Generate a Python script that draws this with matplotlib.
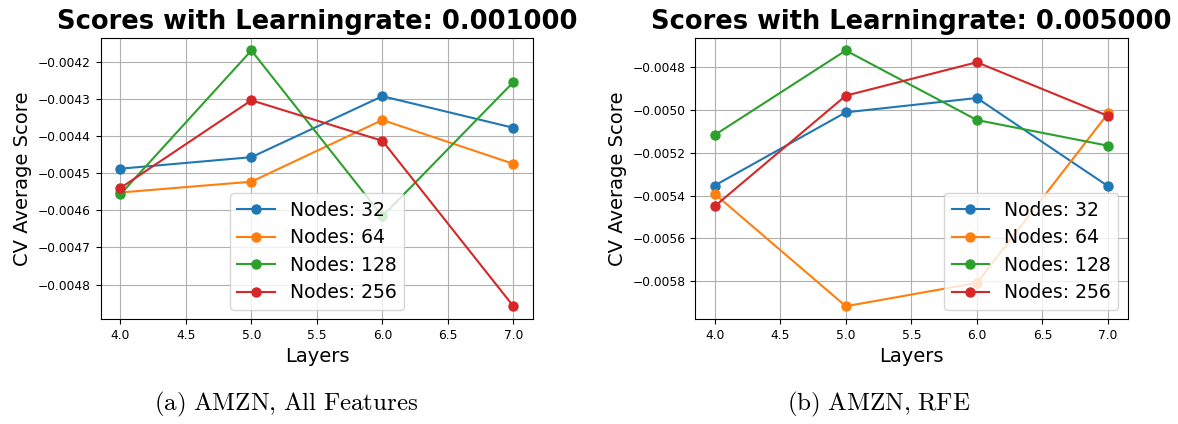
import matplotlib
matplotlib.use('Agg')
import matplotlib.pyplot as plt
from matplotlib.ticker import MultipleLocator

plt.rcParams['mathtext.fontset'] = 'cm'

layers = [4, 5, 6, 7]
nodes = [32, 64, 128, 256]

# left panel, lr = 0.001, all features
lr1_n32 = [-0.004488, -0.004457, -0.004293, -0.004378]
lr1_n64 = [-0.004552, -0.004523, -0.004357, -0.004475]
lr1_n128 = [-0.004557, -0.004170, -0.004616, -0.004255]
lr1_n256 = [-0.004540, -0.004304, -0.004413, -0.004858]

# right panel, lr = 0.005, RFE
lr5_n32 = [-0.005353, -0.005011, -0.004944, -0.005356]
lr5_n64 = [-0.005392, -0.005917, -0.005808, -0.005016]
lr5_n128 = [-0.005117, -0.004722, -0.005047, -0.005167]
lr5_n256 = [-0.005450, -0.004933, -0.004777, -0.005028]

fig = plt.figure(figsize=(11.78, 4.24), dpi=100)
ax1 = fig.add_axes([0.0855, 0.2476, 0.367, 0.6635])
ax2 = fig.add_axes([0.590, 0.2476, 0.3673, 0.6635])

panels = [
    (ax1, 0.001, [lr1_n32, lr1_n64, lr1_n128, lr1_n256], 'lower center', 0.0001),
    (ax2, 0.005, [lr5_n32, lr5_n64, lr5_n128, lr5_n256], 'lower right', 0.0002),
]

def minus_fmt(v, p):
    return ('%.4f' % v).replace('-', '\u2212')

for ax, lr, series, loc, step in panels:
    for n, s in zip(nodes, series):
        ax.plot(layers, s, marker='o', ms=6.5, lw=1.5, label='Nodes: %d' % n)
    ax.set_title('Scores with Learningrate: %f' % lr, fontsize=18.5, fontweight='bold')
    ax.set_xlabel('Layers', fontsize=14)
    ax.set_ylabel('CV Average Score', fontsize=14)
    ax.xaxis.set_major_locator(MultipleLocator(0.5))
    ax.yaxis.set_major_locator(MultipleLocator(step))
    ax.yaxis.set_major_formatter(plt.FuncFormatter(minus_fmt))
    ax.tick_params(labelsize=8.8)
    ax.grid(True, color='#b0b0b0', lw=0.8)
    ax.legend(loc=loc, fontsize=13.5, labelspacing=0.45)

fig.text(0.243, 0.045, r'$\mathrm{(a)\ AMZN{,}\ All\ Features}$', fontsize=18, ha='center', va='center')
fig.text(0.746, 0.045, r'$\mathrm{(b)\ AMZN{,}\ RFE}$', fontsize=18, ha='center', va='center')

fig.savefig('out.png', dpi=100)
